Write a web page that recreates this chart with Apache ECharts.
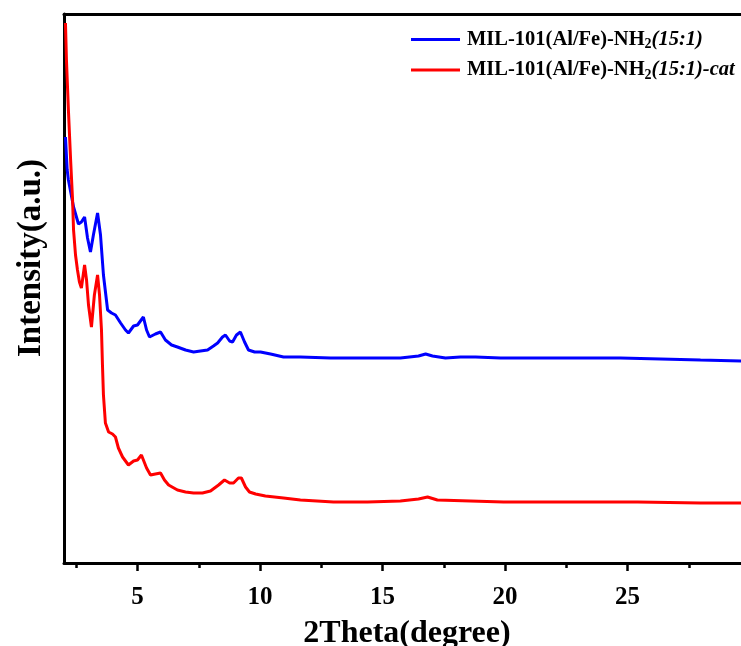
<!DOCTYPE html>
<html lang="en">

<head>
    <meta charset="UTF-8">
    <title>XRD</title>
    <script src="https://cdn.jsdelivr.net/npm/echarts@6.0.0/dist/echarts.min.js"></script>
    <style>
        html, body { margin: 0; padding: 0; background: #fff; }
        #chart { width: 741px; height: 646px; }
    </style>
</head>

<body>
    <div id="chart"></div>

    <script type="text/javascript">
        // 2Theta / intensity (intensity in arbitrary units)
        var blueTheta = [2.06, 2.13, 2.18, 2.39, 2.59, 2.71, 2.84, 2.96, 3.08, 3.20, 3.37, 3.49, 3.61, 3.78, 3.94, 4.10, 4.31, 4.51, 4.63, 4.84, 5.00, 5.24, 5.37, 5.49, 5.73, 5.94, 6.14, 6.39, 6.63, 6.96, 7.29, 7.57, 7.86, 8.10, 8.27, 8.47, 8.59, 8.76, 8.88, 9.04, 9.20, 9.37, 9.53, 9.78, 10.02, 10.43, 10.96, 11.65, 12.88, 14.39, 15.73, 16.47, 16.76, 17.04, 17.57, 18.18, 18.80, 19.82, 21.45, 23.08, 24.71, 26.35, 27.98, 29.65];
        var blueValues = [426, 393, 383, 356, 339, 341, 346, 325, 311, 328, 350, 328, 288, 253, 250, 248, 240, 233, 230, 237, 238, 246, 233, 226, 229, 231, 223, 218, 216, 213, 211, 212, 213, 217, 220, 226, 228, 222, 221, 228, 231, 221, 213, 211, 211, 209, 206, 206, 205, 205, 205, 207, 209, 207, 205, 206, 206, 205, 205, 205, 205, 204, 203, 202];

        var redTheta = [2.06, 2.10, 2.18, 2.27, 2.35, 2.39, 2.47, 2.55, 2.63, 2.71, 2.84, 2.92, 3.00, 3.12, 3.24, 3.37, 3.45, 3.53, 3.57, 3.61, 3.69, 3.82, 3.98, 4.10, 4.22, 4.39, 4.63, 4.84, 5.00, 5.16, 5.24, 5.37, 5.53, 5.73, 5.94, 6.10, 6.27, 6.63, 6.96, 7.29, 7.65, 7.98, 8.31, 8.55, 8.76, 8.92, 9.12, 9.24, 9.41, 9.57, 9.82, 10.22, 10.96, 11.65, 13.00, 14.39, 15.73, 16.47, 16.84, 17.24, 18.59, 19.94, 22.27, 25.41, 27.98, 29.65];
        var redValues = [540, 503, 453, 403, 363, 333, 308, 293, 281, 275, 298, 283, 258, 236, 268, 288, 268, 233, 198, 168, 140, 131, 129, 126, 115, 106, 98, 102, 103, 108, 110, 95, 88, 89, 90, 83, 78, 73, 71, 70, 70, 72, 78, 83, 80, 80, 85, 85, 76, 71, 69, 67, 65, 63, 61, 61, 62, 64, 66, 63, 62, 61, 61, 61, 60, 60];

        var majorTicks = [5, 10, 15, 20, 25, 30];
        var tickLabels = [5, 10, 15, 20, 25];
        var minorTicks = [2.5, 7.5, 12.5, 17.5, 22.5, 27.5];

        function zip(xs, ys) {
            var out = [];
            for (var i = 0; i < xs.length; i++) out.push([xs[i], ys[i]]);
            return out;
        }

        var serif = '"Liberation Serif", "Times New Roman", serif';
        var chart = echarts.init(document.getElementById('chart'));

        var option = {
            backgroundColor: '#fff',
            animation: false,
            grid: { left: 64, right: -9, top: 14, bottom: 83, outerBoundsMode: 'none', containLabel: false },
            legend: {
                orient: 'vertical',
                left: 411,
                top: 29,
                padding: 0,
                icon: 'rect',
                itemWidth: 49,
                itemHeight: 3,
                itemGap: 8,
                data: ['blue', 'red'],
                formatter: function (name) {
                    if (name === 'blue') return '{b|MIL-101(Al/Fe)-NH}{s|2}{i|(15:1)}';
                    return '{b|MIL-101(Al/Fe)-NH}{s|2}{i|(15:1)-cat}';
                },
                textStyle: {
                    padding: [0, 0, 0, 2],
                    rich: {
                        b: { fontFamily: serif, fontWeight: 'bold', fontSize: 20.5, color: '#000', lineHeight: 24 },
                        s: { fontFamily: serif, fontWeight: 'bold', fontSize: 14, color: '#000', lineHeight: 24, verticalAlign: 'bottom', padding: [8, 0, 0, 0] },
                        i: { fontFamily: serif, fontWeight: 'bold', fontStyle: 'italic', fontSize: 20.5, color: '#000', lineHeight: 24 }
                    }
                }
            },
            xAxis: [
                {
                    type: 'value',
                    min: 2,
                    max: 30,
                    position: 'bottom',
                    name: '2Theta(degree)',
                    nameLocation: 'middle',
                    nameGap: 55,
                    nameTextStyle: { fontFamily: serif, fontWeight: 'bold', fontSize: 32, color: '#000' },
                    axisLine: { onZero: false, lineStyle: { color: '#000', width: 3 } },
                    axisTick: { customValues: majorTicks, length: 8, lineStyle: { color: '#000', width: 2.5 } },
                    axisLabel: { customValues: tickLabels, margin: 22, fontFamily: serif, fontWeight: 'bold', fontSize: 25, color: '#000' },
                    splitLine: { show: false }
                },
                {
                    type: 'value',
                    min: 2,
                    max: 30,
                    position: 'bottom',
                    axisLine: { show: false },
                    axisTick: { customValues: minorTicks, length: 5, lineStyle: { color: '#000', width: 2.5 } },
                    axisLabel: { show: false },
                    splitLine: { show: false }
                },
                {
                    type: 'value',
                    min: 2,
                    max: 30,
                    position: 'top',
                    axisLine: { onZero: false, lineStyle: { color: '#000', width: 3 } },
                    axisTick: { show: false },
                    axisLabel: { show: false },
                    splitLine: { show: false }
                }
            ],
            yAxis: {
                type: 'value',
                min: 0,
                max: 549,
                axisLine: { show: true, onZero: false, lineStyle: { color: '#000', width: 3 } },
                axisTick: { show: false },
                axisLabel: { show: false },
                splitLine: { show: false }
            },
            graphic: [
                {
                    type: 'text',
                    x: 31,
                    y: 258,
                    rotation: Math.PI / 2,
                    style: {
                        text: 'Intensity(a.u.)',
                        fontFamily: serif,
                        fontWeight: 'bold',
                        fontSize: 33,
                        fill: '#000',
                        align: 'center',
                        verticalAlign: 'middle'
                    }
                }
            ],
            series: [
                {
                    name: 'blue',
                    type: 'line',
                    xAxisIndex: 0,
                    showSymbol: false,
                    symbol: 'none',
                    lineStyle: { color: '#0000ff', width: 3 },
                    itemStyle: { color: '#0000ff' },
                    data: zip(blueTheta, blueValues)
                },
                {
                    name: 'red',
                    type: 'line',
                    xAxisIndex: 0,
                    showSymbol: false,
                    symbol: 'none',
                    lineStyle: { color: '#ff0000', width: 3 },
                    itemStyle: { color: '#ff0000' },
                    data: zip(redTheta, redValues)
                }
            ]
        };
        chart.setOption(option);
    </script>
</body>

</html>
